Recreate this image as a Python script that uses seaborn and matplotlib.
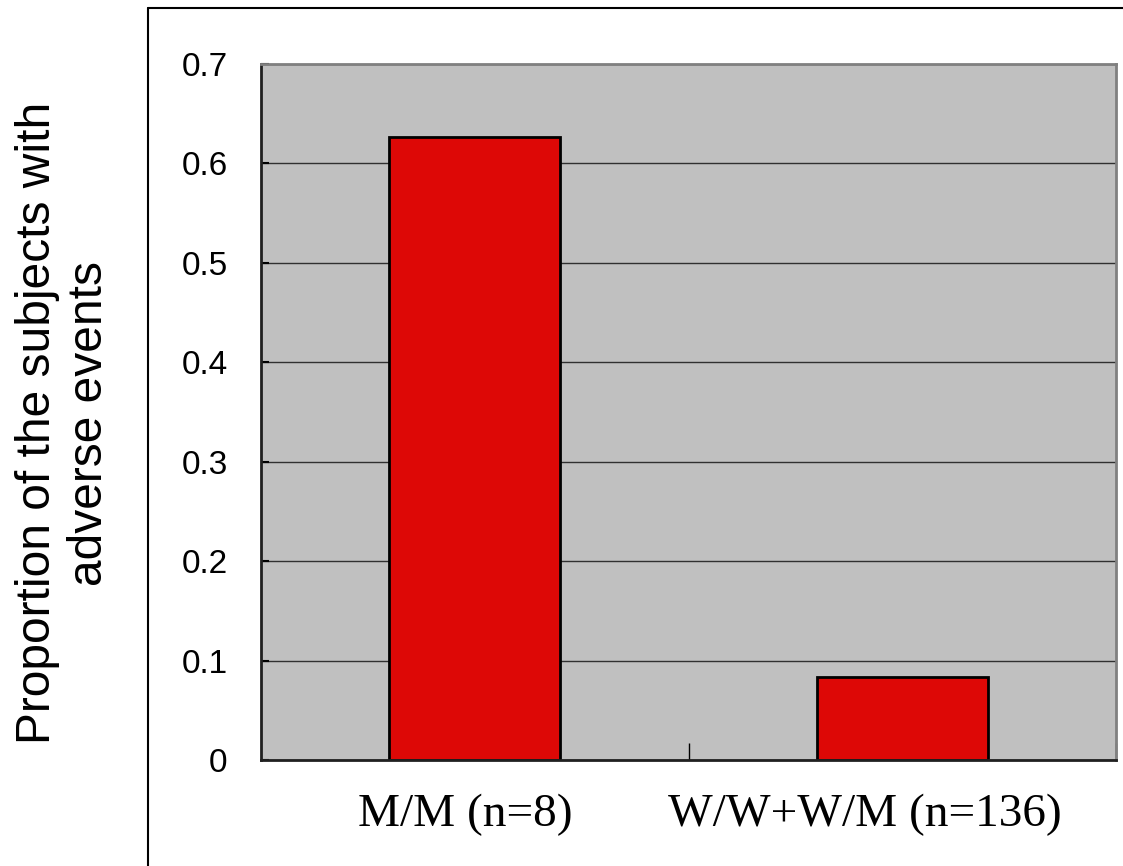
import numpy as np
import pandas as pd
import matplotlib.pyplot as plt
import matplotlib.transforms as mtransforms
import seaborn as sns
from matplotlib.lines import Line2D

# data
groups = ["M/M (n=8)", "W/W+W/M (n=136)"]
proportions = [0.627, 0.083]
y_ticks = [0, 0.1, 0.2, 0.3, 0.4, 0.5, 0.6, 0.7]

df = pd.DataFrame({"group": groups, "proportion": proportions})

sns.set_theme(style="white")
plt.rcParams['font.family'] = ['Liberation Sans', 'DejaVu Sans']
plt.rcParams['text.color'] = 'black'
plt.rcParams['axes.labelcolor'] = 'black'
plt.rcParams['xtick.color'] = 'black'
plt.rcParams['ytick.color'] = 'black'

fig = plt.figure(figsize=(11.23, 8.66), dpi=100)
ax = fig.add_axes([0.2324, 0.1224, 0.7614, 0.8037])
ax.set_facecolor("#C0C0C0")

sns.barplot(data=df, x="group", y="proportion", color="#DD0806",
            width=0.4, edgecolor="black", linewidth=2, saturation=1, ax=ax)

ax.set_ylim(0, 0.7)
ax.set_xlim(-0.5, 1.5)
ax.set_yticks(y_ticks)
ax.set_yticklabels(["0" if t == 0 else f"{t:.1f}" for t in y_ticks], fontsize=24)
ax.yaxis.grid(True, color="#303030", linewidth=1)
ax.set_axisbelow(True)

# category labels (slightly left of bar centres, as in the original)
ax.set_xticks([0, 1])
ax.set_xticklabels(groups, fontsize=34, family="Liberation Serif")
ax.tick_params(axis="x", length=0, pad=24)
for lbl, dx in zip(ax.get_xticklabels(), [-9, -37]):
    lbl.set_transform(lbl.get_transform() + mtransforms.ScaledTranslation(dx / 100, 0, fig.dpi_scale_trans))

ax.tick_params(axis="y", direction="in", length=6, width=1.5, color="black", pad=24, left=True)
# category boundary ticks on x axis
ax.set_xticks([0.5, 1.5], minor=True)
ax.tick_params(axis="x", which="minor", direction="in", length=12, width=1, color="black", bottom=True)

ax.set_xlabel("")
ax.set_ylabel("Proportion of the subjects with\nadverse events", fontsize=34.5,
              labelpad=50, linespacing=1.2, y=0.484)

for side in ["left", "bottom"]:
    ax.spines[side].set_color("#202020")
    ax.spines[side].set_linewidth(2)
for side in ["top", "right"]:
    ax.spines[side].set_color("#808080")
    ax.spines[side].set_linewidth(2)

# outer chart frame (left and top edges)
fig.add_artist(Line2D([0.1318, 0.1318], [0, 0.9908], color="black", linewidth=1.5, transform=fig.transFigure))
fig.add_artist(Line2D([0.1318, 1.0], [0.9908, 0.9908], color="black", linewidth=1.5, transform=fig.transFigure))

plt.savefig("out.png", dpi=100)
